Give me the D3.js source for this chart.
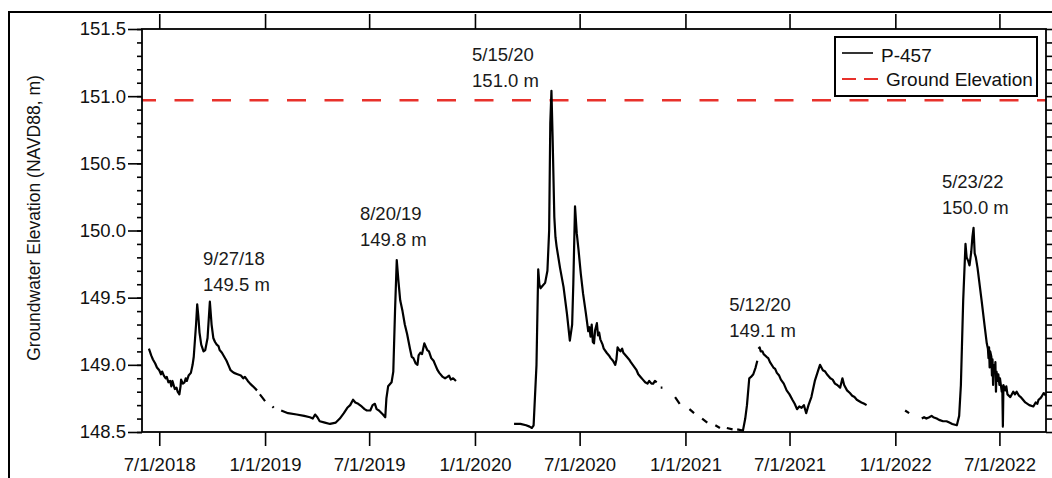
<!DOCTYPE html>
<html>
<head>
<meta charset="utf-8">
<script src="https://cdn.jsdelivr.net/npm/d3@7"></script>
<style>
  body { margin: 0; background: #fff; }
  svg { display: block; font-family: "Liberation Sans", Arial, sans-serif; }
</style>
</head>
<body>
<div class="chart"></div>
<script>
// --- data (null value = gap in the record) ---
var seg2018 = [
  ["2018-06-13",149.12],["2018-06-17",149.07],["2018-06-20",149.04],["2018-06-24",149.01],
  ["2018-06-27",148.98],["2018-07-01",148.96],["2018-07-04",148.93],["2018-07-06",148.95],
  ["2018-07-09",148.92],["2018-07-12",148.90],["2018-07-14",148.91],["2018-07-17",148.87],
  ["2018-07-20",148.88],["2018-07-22",148.84],["2018-07-24",148.88],["2018-07-28",148.82],
  ["2018-07-31",148.83],["2018-08-02",148.80],["2018-08-05",148.78],["2018-08-07",148.84],
  ["2018-08-08",148.89],["2018-08-11",148.86],["2018-08-14",148.87],["2018-08-16",148.90],
  ["2018-08-18",148.88],["2018-08-21",148.92],["2018-08-25",148.94],["2018-08-28",149.00],
  ["2018-08-30",149.06],["2018-09-03",149.30],["2018-09-05",149.45],["2018-09-07",149.36],
  ["2018-09-09",149.24],["2018-09-12",149.15],["2018-09-16",149.10],["2018-09-19",149.11],
  ["2018-09-23",149.20],["2018-09-27",149.47],["2018-09-30",149.30],["2018-10-03",149.20],
  ["2018-10-06",149.17],["2018-10-09",149.15],["2018-10-12",149.14],["2018-10-14",149.11],
  ["2018-10-18",149.09],["2018-10-22",149.06],["2018-10-26",149.03],["2018-10-30",148.99],
  ["2018-11-02",148.96],["2018-11-05",148.95],["2018-11-08",148.94],["2018-11-14",148.93],
  ["2018-11-20",148.92],["2018-11-24",148.90],["2018-11-27",148.91],["2018-12-02",148.88],
  ["2018-12-06",148.86],["2018-12-11",148.84],["2018-12-18",148.81],["2018-12-20",null],
  ["2018-12-23",148.78],["2019-01-01",148.73],["2019-01-08",null],
  ["2019-01-14",148.69],["2019-01-16",148.68],["2019-01-22",null]
];
var seg2019 = [
  ["2019-01-29",148.66],["2019-02-10",148.64],["2019-02-25",148.63],["2019-03-10",148.62],
  ["2019-03-20",148.61],["2019-03-25",148.60],["2019-03-29",148.63],["2019-04-02",148.61],
  ["2019-04-06",148.58],["2019-04-15",148.57],["2019-04-24",148.56],["2019-05-04",148.57],
  ["2019-05-11",148.60],["2019-05-18",148.64],["2019-05-24",148.68],["2019-05-29",148.70],
  ["2019-06-03",148.74],["2019-06-07",148.72],["2019-06-12",148.71],["2019-06-18",148.69],
  ["2019-06-23",148.67],["2019-06-27",148.66],["2019-07-03",148.66],["2019-07-07",148.70],
  ["2019-07-11",148.71],["2019-07-14",148.67],["2019-07-18",148.66],["2019-07-25",148.63],
  ["2019-07-29",148.61],["2019-07-31",148.75],["2019-08-03",148.84],["2019-08-09",148.87],
  ["2019-08-12",148.95],["2019-08-15",149.40],["2019-08-18",149.78],["2019-08-21",149.62],
  ["2019-08-24",149.48],["2019-08-28",149.40],["2019-09-01",149.30],["2019-09-05",149.23],
  ["2019-09-10",149.12],["2019-09-13",149.06],["2019-09-16",149.05],["2019-09-20",149.01],
  ["2019-09-23",149.00],["2019-09-25",149.07],["2019-09-28",149.09],["2019-10-01",149.08],
  ["2019-10-05",149.16],["2019-10-08",149.13],["2019-10-10",149.11],["2019-10-13",149.10],
  ["2019-10-17",149.05],["2019-10-21",149.03],["2019-10-24",149.00],["2019-10-28",148.96],
  ["2019-10-31",148.94],["2019-11-06",148.91],["2019-11-10",148.90],["2019-11-14",148.91],
  ["2019-11-17",148.92],["2019-11-20",148.89],["2019-11-24",148.90],["2019-11-29",148.88],
  ["2019-12-05",null]
];
var seg2020 = [
  ["2020-03-09",148.56],["2020-03-20",148.56],["2020-03-30",148.55],["2020-04-05",148.54],
  ["2020-04-09",148.53],["2020-04-12",148.55],["2020-04-17",149.00],["2020-04-20",149.71],
  ["2020-04-22",149.60],["2020-04-24",149.57],["2020-04-28",149.59],["2020-05-02",149.61],
  ["2020-05-06",149.70],["2020-05-09",150.00],["2020-05-11",150.80],["2020-05-13",151.04],
  ["2020-05-15",150.70],["2020-05-18",150.10],["2020-05-20",149.95],["2020-05-22",149.88],
  ["2020-05-28",149.72],["2020-06-03",149.58],["2020-06-09",149.38],["2020-06-14",149.18],
  ["2020-06-18",149.30],["2020-06-20",149.60],["2020-06-23",150.18],["2020-06-26",149.98],
  ["2020-06-29",149.86],["2020-07-03",149.68],["2020-07-07",149.53],["2020-07-12",149.38],
  ["2020-07-16",149.25],["2020-07-18",149.28],["2020-07-20",149.21],["2020-07-22",149.30],
  ["2020-07-24",149.17],["2020-07-26",149.16],["2020-07-28",149.26],["2020-07-31",149.31],
  ["2020-08-02",149.22],["2020-08-04",149.24],["2020-08-06",149.19],["2020-08-10",149.15],
  ["2020-08-12",149.12],["2020-08-17",149.09],["2020-08-21",149.07],["2020-08-24",149.05],
  ["2020-08-28",149.03],["2020-09-01",149.00],["2020-09-03",149.04],["2020-09-05",149.13],
  ["2020-09-08",149.11],["2020-09-10",149.10],["2020-09-13",149.12],["2020-09-15",149.09],
  ["2020-09-21",149.06],["2020-09-25",149.04],["2020-09-28",149.02],["2020-10-03",148.99],
  ["2020-10-08",148.96],["2020-10-11",148.93],["2020-10-15",148.91],["2020-10-19",148.89],
  ["2020-10-23",148.87],["2020-10-27",148.86],["2020-10-30",148.88],["2020-11-03",148.86],
  ["2020-11-06",148.86],["2020-11-09",148.88],["2020-11-12",148.87],
  ["2020-11-16",null],["2020-11-19",148.83],["2020-11-22",148.83],["2020-11-28",null],
  ["2020-12-14",148.76],["2020-12-22",148.71],["2020-12-30",null],
  ["2021-01-08",148.67],["2021-01-16",148.64],["2021-01-23",null],
  ["2021-01-30",148.60],["2021-02-08",148.57],["2021-02-15",null],
  ["2021-02-22",148.55],["2021-03-02",148.53],["2021-03-08",null],
  ["2021-03-14",148.53],["2021-03-24",148.52],["2021-03-28",null]
];
var seg2021 = [
  ["2021-04-01",148.52],["2021-04-11",148.51],["2021-04-15",148.60],["2021-04-18",148.70],
  ["2021-04-22",148.90],["2021-04-25",148.91],["2021-04-29",148.93],["2021-05-03",148.98],
  ["2021-05-06",149.03],["2021-05-07",null],["2021-05-08",149.12],["2021-05-10",149.13],
  ["2021-05-12",149.10],["2021-05-15",149.10],["2021-05-17",149.08],["2021-05-22",149.06],
  ["2021-05-25",149.05],["2021-05-28",149.02],["2021-06-03",148.98],["2021-06-06",148.97],
  ["2021-06-09",148.94],["2021-06-13",148.92],["2021-06-16",148.89],["2021-06-21",148.86],
  ["2021-06-26",148.81],["2021-07-01",148.78],["2021-07-06",148.74],["2021-07-10",148.71],
  ["2021-07-14",148.67],["2021-07-18",148.69],["2021-07-22",148.68],["2021-07-26",148.70],
  ["2021-07-30",148.64],["2021-08-03",148.70],["2021-08-08",148.76],["2021-08-14",148.88],
  ["2021-08-20",148.96],["2021-08-23",149.00],["2021-08-28",148.96],["2021-09-01",148.95],
  ["2021-09-04",148.93],["2021-09-10",148.90],["2021-09-14",148.89],["2021-09-18",148.86],
  ["2021-09-22",148.85],["2021-09-27",148.83],["2021-10-01",148.90],["2021-10-04",148.85],
  ["2021-10-09",148.81],["2021-10-14",148.79],["2021-10-18",148.77],["2021-10-22",148.76],
  ["2021-10-26",148.74],["2021-11-03",148.72],["2021-11-08",148.71],["2021-11-12",148.70],
  ["2021-12-01",null]
];
var seg2022 = [
  ["2022-01-18",148.66],["2022-01-25",148.64],["2022-02-05",null],
  ["2022-02-16",148.60],["2022-02-20",148.61],["2022-02-24",148.60],["2022-03-01",148.61],
  ["2022-03-05",148.62],["2022-03-08",148.61],["2022-03-14",148.60],["2022-03-18",148.59],
  ["2022-03-25",148.58],["2022-03-31",148.58],["2022-04-05",148.57],["2022-04-10",148.56],
  ["2022-04-18",148.55],["2022-04-22",148.62],["2022-04-25",148.85],["2022-04-29",149.48],
  ["2022-05-03",149.90],["2022-05-05",149.80],["2022-05-08",149.77],["2022-05-10",149.74],
  ["2022-05-13",149.84],["2022-05-15",149.95],["2022-05-17",150.02],["2022-05-19",149.83],
  ["2022-05-21",149.80],["2022-05-24",149.72],["2022-05-31",149.48],["2022-06-05",149.30],
  ["2022-06-09",149.16],["2022-06-11",149.12],["2022-06-12",149.05],["2022-06-13",149.13],
  ["2022-06-14",148.98],["2022-06-15",149.10],["2022-06-17",149.06],["2022-06-18",148.92],
  ["2022-06-19",149.04],["2022-06-20",148.85],["2022-06-21",149.00],["2022-06-23",148.94],
  ["2022-06-24",149.02],["2022-06-25",148.80],["2022-06-26",148.95],["2022-06-28",148.88],
  ["2022-06-29",148.93],["2022-07-01",148.85],["2022-07-02",148.90],["2022-07-05",148.80],
  ["2022-07-06",148.84],["2022-07-07",148.54],["2022-07-08",148.85],["2022-07-11",148.81],
  ["2022-07-13",148.84],["2022-07-15",148.78],["2022-07-20",148.76],["2022-07-25",148.80],
  ["2022-07-28",148.78],["2022-07-31",148.80],["2022-08-04",148.77],["2022-08-07",148.76],
  ["2022-08-11",148.74],["2022-08-15",148.72],["2022-08-22",148.70],["2022-08-29",148.69],
  ["2022-09-02",148.72],["2022-09-05",148.71],["2022-09-07",148.74],["2022-09-10",148.75],
  ["2022-09-12",148.76],["2022-09-16",148.79],["2022-09-20",148.77]
];
var groundElevation = 150.97;

var xTickDates = ["2018-07-01","2019-01-01","2019-07-01","2020-01-01","2020-07-01",
                  "2021-01-01","2021-07-01","2022-01-01","2022-07-01"];
var yMajorTicks = [148.5, 149.0, 149.5, 150.0, 150.5, 151.0, 151.5];

// peak callouts: text lines and where the text block sits (date / elevation of 2nd line)
var calloutDates  = ["9/27/18", "8/20/19", "5/15/20", "5/12/20", "5/23/22"];
var calloutValues = ["149.5 m", "149.8 m", "151.0 m", "149.1 m", "150.0 m"];
var calloutAtDate = ["2018-09-15", "2019-06-15", "2019-12-27", "2021-03-18", "2022-03-23"];
var calloutAtElev = [149.55, 149.885, 151.07, 149.207, 150.12];

var legendLabels = ["P-457", "Ground Elevation"];

// --- layout ---
var width = 1052, height = 478;
var margin = { top: 29, right: 6, bottom: 46, left: 142 };
var parse = d3.timeParse("%Y-%m-%d");

var svg = d3.select(".chart").append("svg")
  .attr("width", width)
  .attr("height", height);

// outer frame (cut by the window on the right and bottom)
svg.append("rect")
  .attr("x", 9).attr("y", 12)
  .attr("width", 1060).attr("height", 500)
  .attr("fill", "none").attr("stroke", "#000").attr("stroke-width", 2);

var x = d3.scaleTime()
  .domain([parse("2018-06-01"), parse("2022-09-20")])
  .range([margin.left, width - margin.right]);
var y = d3.scaleLinear()
  .domain([148.5, 151.5])
  .range([height - margin.bottom, margin.top]);

var x0 = x.range()[0], x1 = x.range()[1], y0 = y.range()[0], y1 = y.range()[1];

svg.append("clipPath").attr("id", "plotclip")
  .append("rect").attr("x", x0).attr("y", y1).attr("width", x1 - x0).attr("height", y0 - y1);

// ground elevation
svg.append("line")
  .attr("x1", x0).attr("x2", x1)
  .attr("y1", y(groundElevation)).attr("y2", y(groundElevation))
  .attr("stroke", "#e8312b").attr("stroke-width", 2.6)
  .attr("stroke-dasharray", "19,18.5").attr("stroke-dashoffset", 5);

// water level series
var line = d3.line()
  .defined(function (d) { return d[1] != null; })
  .x(function (d) { return x(parse(d[0])); })
  .y(function (d) { return y(d[1]); });

[seg2018, seg2019, seg2020, seg2021, seg2022].forEach(function (seg) {
  svg.append("path")
    .datum(seg)
    .attr("clip-path", "url(#plotclip)")
    .attr("fill", "none")
    .attr("stroke", "#000")
    .attr("stroke-width", 2.2)
    .attr("stroke-linejoin", "round")
    .attr("d", line);
});

// axes
var fmt = d3.timeFormat("%-m/%-d/%Y");
var tickDates = xTickDates.map(parse);

var gx = svg.append("g")
  .attr("transform", "translate(0," + y0 + ")")
  .call(d3.axisBottom(x).tickValues(tickDates).tickFormat(fmt)
    .tickSizeInner(14).tickSizeOuter(0).tickPadding(12));
var gxt = svg.append("g")
  .attr("transform", "translate(0," + y1 + ")")
  .call(d3.axisTop(x).tickValues(tickDates).tickFormat("")
    .tickSizeInner(15).tickSizeOuter(0));

var minorY = d3.range(0, 31).map(function (i) { return +(148.5 + i * 0.1).toFixed(1); });

var gyMinor = svg.append("g")
  .attr("transform", "translate(" + x0 + ",0)")
  .call(d3.axisLeft(y).tickValues(minorY).tickFormat("").tickSizeInner(5).tickSizeOuter(0));
var gy = svg.append("g")
  .attr("transform", "translate(" + x0 + ",0)")
  .call(d3.axisLeft(y).tickValues(yMajorTicks).tickFormat(d3.format(".1f"))
    .tickSizeInner(14).tickSizeOuter(0).tickPadding(2));
var gyr = svg.append("g")
  .attr("transform", "translate(" + x1 + ",0)")
  .call(d3.axisRight(y).tickValues(minorY).tickFormat("").tickSizeInner(7).tickSizeOuter(0));

[gx, gxt, gyMinor, gy, gyr].forEach(function (g) {
  g.select(".domain").remove();
  g.selectAll(".tick line").attr("stroke", "#000").attr("stroke-width", 1.6);
  g.selectAll(".tick text").attr("fill", "#111").style("font-size", "18.5px")
    .style("font-family", "'Liberation Sans', Arial, sans-serif");
});

// plot frame
svg.append("rect")
  .attr("x", x0).attr("y", y1)
  .attr("width", x1 - x0).attr("height", y0 - y1)
  .attr("fill", "none").attr("stroke", "#000").attr("stroke-width", 1.8);

// y axis title
svg.append("text")
  .attr("transform", "translate(40," + 218 + ") rotate(-90)")
  .attr("text-anchor", "middle")
  .style("font-size", "17.5px")
  .attr("fill", "#111")
  .text("Groundwater Elevation (NAVD88, m)");

// callouts
calloutDates.forEach(function (label, i) {
  var t = svg.append("text")
    .attr("x", x(parse(calloutAtDate[i])))
    .attr("y", y(calloutAtElev[i]) - 26)
    .style("font-size", "18.5px")
    .attr("fill", "#1a1a1a");
  t.append("tspan").text(label);
  t.append("tspan")
    .attr("x", x(parse(calloutAtDate[i])))
    .attr("dy", 26)
    .text(calloutValues[i]);
});

// legend
var lg = svg.append("g").attr("transform", "translate(835,37)");
lg.append("rect")
  .attr("width", 202).attr("height", 59)
  .attr("fill", "#fff").attr("stroke", "#000").attr("stroke-width", 2);
lg.append("line")
  .attr("x1", 7).attr("x2", 38).attr("y1", 16).attr("y2", 16)
  .attr("stroke", "#000").attr("stroke-width", 1.6);
lg.append("line")
  .attr("x1", 7).attr("x2", 43).attr("y1", 42).attr("y2", 42)
  .attr("stroke", "#e8312b").attr("stroke-width", 2)
  .attr("stroke-dasharray", "14,8");
lg.selectAll("text.leg")
  .data(legendLabels)
  .enter().append("text")
  .attr("class", "leg")
  .attr("x", function (d, i) { return i === 0 ? 46 : 51; })
  .attr("y", function (d, i) { return 25 + i * 24; })
  .style("font-size", "19px")
  .attr("fill", "#111")
  .text(function (d) { return d; });
</script>
</body>
</html>
